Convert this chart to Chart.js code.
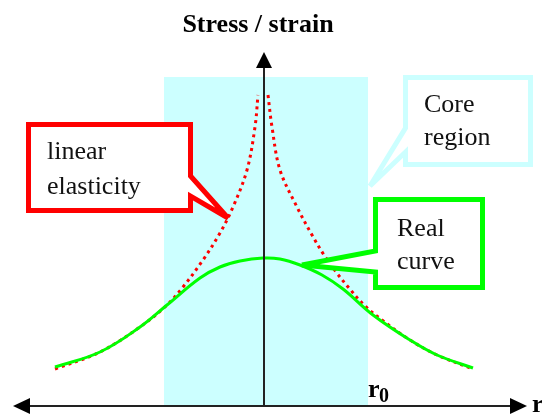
<!DOCTYPE html>
<html lang="en">
<head>
  <meta charset="UTF-8" />
  <title>Stress / strain</title>
  <script src="https://cdn.jsdelivr.net/npm/chart.js"></script>
  <style>
    body {
      margin: 0;
      background: #ffffff;
    }
    .wrap {
      width: 542px;
      height: 418px;
      position: relative;
    }
  </style>
</head>
<body>
  <div class="wrap">
    <canvas id="stressChart"></canvas>
  </div>
  <script>
    // distance from the core centre vs. stress height (chart units)
    const elasticLeftR = [-209, -164, -124, -97, -81, -61, -44, -31, -17, -9, -6];
    const elasticLeftS = [37, 54, 79, 101, 119, 146, 173, 199, 236, 279, 311];
    const elasticRightR = [4, 8, 16, 33, 48, 60, 72, 85, 100, 118, 146, 173, 209];
    const elasticRightS = [311, 279, 236, 199, 171, 151, 134, 118, 101, 86, 66, 51, 37];
    const realR = [-209, -164, -124, -97, -64, -44, -24, -1, 16, 36, 58, 79, 109, 146, 173, 209];
    const realS = [39, 54, 79, 101, 128, 139, 145, 148, 147, 141, 131, 117, 91, 66, 51, 38];

    const coreMin = -100;   // core region, r = -r0 .. r0
    const coreMax = 104;
    const coreTop = 329;
    const rMin = -251, rMax = 263;
    const sMax = 354;

    const titleText = 'Stress / strain';
    const elasticText = ['linear', 'elasticity'];
    const coreText = ['Core', 'region'];
    const realText = ['Real', 'curve'];

    const toPoints = (xs, ys) => xs.map((x, i) => ({ x: x, y: ys[i] }));

    const serif = '"Liberation Serif", "DejaVu Serif", serif';

    function arrow(ctx, tipX, tipY, dx, dy, len, half) {
      // dx, dy: unit direction the arrow points to
      const bx = tipX - dx * len, by = tipY - dy * len;
      ctx.beginPath();
      ctx.moveTo(tipX, tipY);
      ctx.lineTo(bx - dy * half, by + dx * half);
      ctx.lineTo(bx + dy * half, by - dx * half);
      ctx.closePath();
      ctx.fill();
    }

    function callout(ctx, pts, color) {
      ctx.beginPath();
      ctx.moveTo(pts[0][0], pts[0][1]);
      for (let i = 1; i < pts.length; i++) ctx.lineTo(pts[i][0], pts[i][1]);
      ctx.closePath();
      ctx.fillStyle = '#ffffff';
      ctx.fill();
      ctx.lineWidth = 5;
      ctx.lineJoin = 'miter';
      ctx.miterLimit = 3;
      ctx.strokeStyle = color;
      ctx.stroke();
    }

    const sketchPlugin = {
      id: 'sketch',
      beforeDatasetsDraw(chart) {
        const { ctx, scales: { x, y } } = chart;
        ctx.save();
        ctx.fillStyle = '#ccffff';
        const l = x.getPixelForValue(coreMin), r = x.getPixelForValue(coreMax);
        const t = y.getPixelForValue(coreTop), b = y.getPixelForValue(0);
        ctx.fillRect(l, t, r - l, b - t);
        ctx.restore();
      },
      afterDatasetsDraw(chart) {
        const { ctx, scales: { x, y } } = chart;
        const x0 = x.getPixelForValue(0);
        const y0 = y.getPixelForValue(0);
        const xl = x.getPixelForValue(rMin), xr = x.getPixelForValue(rMax);
        const yt = y.getPixelForValue(sMax);
        ctx.save();

        // axes
        ctx.strokeStyle = '#222222';
        ctx.fillStyle = '#000000';
        ctx.lineWidth = 2;
        ctx.beginPath();
        ctx.moveTo(xl + 10, y0);
        ctx.lineTo(xr - 10, y0);
        ctx.stroke();
        ctx.beginPath();
        ctx.moveTo(x0, y0);
        ctx.lineTo(x0, yt + 10);
        ctx.stroke();
        arrow(ctx, xl, y0, -1, 0, 17, 8);
        arrow(ctx, xr, y0, 1, 0, 17, 8);
        arrow(ctx, x0, yt, 0, -1, 16, 8);

        // title and axis labels
        ctx.textAlign = 'center';
        ctx.textBaseline = 'alphabetic';
        ctx.font = 'bold 26px ' + serif;
        ctx.fillText(titleText, 258, 32);
        ctx.textAlign = 'left';
        ctx.font = 'bold 26px ' + serif;
        ctx.fillText('r', x.getPixelForValue(coreMax), 397);
        ctx.font = 'bold 20px ' + serif;
        ctx.fillText('0', x.getPixelForValue(coreMax) + 11, 402);
        ctx.font = 'bold 26px ' + serif;
        ctx.fillText('r', xr + 5, 412);

        // callouts
        const tipE = [x.getPixelForValue(-36), y.getPixelForValue(188)];
        callout(ctx, [[28.5, 124.5], [190.5, 124.5], [190.5, 176], tipE, [190.5, 196], [190.5, 210.5], [28.5, 210.5]], '#ff0000');
        const tipC = [x.getPixelForValue(coreMax + 2), y.getPixelForValue(220)];
        callout(ctx, [[405.5, 77.5], [530.5, 77.5], [530.5, 164.5], [405.5, 164.5], [405.5, 152], tipC, [405.5, 128]], '#ccffff');
        const tipR = [x.getPixelForValue(38), y.getPixelForValue(141)];
        callout(ctx, [[375.5, 199.5], [482.5, 199.5], [482.5, 287.5], [375.5, 287.5], [375.5, 272], tipR, [375.5, 251]], '#00ff00');

        ctx.fillStyle = '#111111';
        ctx.font = '26px ' + serif;
        ctx.fillText(elasticText[0], 47, 159);
        ctx.fillText(elasticText[1], 47, 194);
        ctx.fillText(coreText[0], 424, 112);
        ctx.fillText(coreText[1], 424, 145);
        ctx.fillText(realText[0], 397, 236);
        ctx.fillText(realText[1], 397, 269);
        ctx.restore();
      }
    };

    const elasticStyle = {
      borderColor: '#ff0000',
      borderWidth: 3,
      borderDash: [3, 4],
      pointRadius: 0,
      showLine: true,
      fill: false,
      tension: 0.35
    };

    new Chart(document.getElementById('stressChart'), {
      type: 'scatter',
      data: {
        datasets: [
          Object.assign({ label: 'Real curve', data: toPoints(realR, realS) }, {
            borderColor: '#00ff00',
            borderWidth: 3,
            pointRadius: 0,
            showLine: true,
            fill: false,
            tension: 0.4
          }),
          Object.assign({ label: 'linear elasticity', data: toPoints(elasticLeftR, elasticLeftS) }, elasticStyle),
          Object.assign({ label: 'linear elasticity', data: toPoints(elasticRightR, elasticRightS) }, elasticStyle)
        ]
      },
      options: {
        responsive: true,
        maintainAspectRatio: false,
        animation: false,
        layout: { padding: { left: 13, right: 15, top: 52, bottom: 12 } },
        plugins: { legend: { display: false }, tooltip: { enabled: false } },
        scales: {
          x: { type: 'linear', min: rMin, max: rMax, display: false },
          y: { type: 'linear', min: 0, max: sMax, display: false }
        }
      },
      plugins: [sketchPlugin]
    });
  </script>
</body>
</html>
